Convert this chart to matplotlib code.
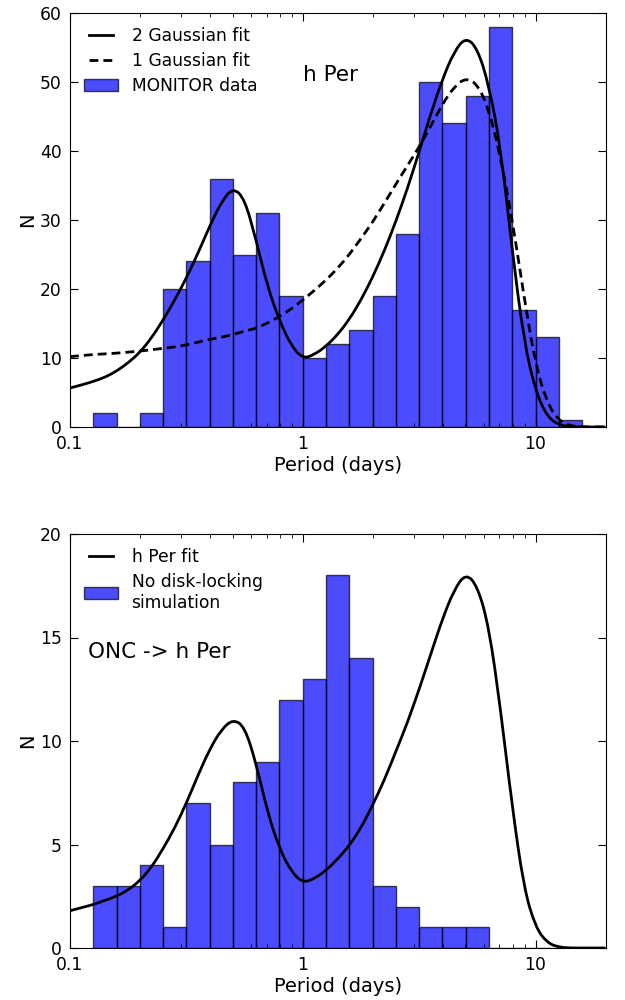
import matplotlib
matplotlib.use('Agg')
import matplotlib.pyplot as plt
import matplotlib.ticker as ticker
from matplotlib.path import Path
from matplotlib.patches import PathPatch
from matplotlib.lines import Line2D
import numpy as np

# histogram bins, log10 of the period in days
bin_edges_log = [-0.9, -0.8, -0.7, -0.6, -0.5, -0.4, -0.3, -0.2, -0.1, 0.0, 0.1,
                 0.2, 0.3, 0.4, 0.5, 0.6, 0.7, 0.8, 0.9, 1.0, 1.1, 1.2]
hper_counts = [2, 0, 2, 20, 24, 36, 25, 31, 19, 10, 12,
               14, 19, 28, 50, 44, 48, 58, 17, 13, 1]
onc_counts = [3, 3, 4, 1, 7, 5, 8, 9, 12, 13, 18,
              14, 3, 2, 1, 1, 1, 0, 0, 0, 0]

# fitted curves (log10 period -> N)
fit_logp = [-1.00, -0.95, -0.90, -0.85, -0.80, -0.75, -0.70, -0.65, -0.60, -0.55,
            -0.50, -0.45, -0.40, -0.35, -0.30, -0.25, -0.20, -0.15, -0.10, -0.05,
            0.00, 0.05, 0.10, 0.15, 0.20, 0.25, 0.30, 0.35, 0.40, 0.45,
            0.50, 0.55, 0.60, 0.65, 0.70, 0.75, 0.80, 0.85, 0.90, 0.95,
            1.00, 1.05, 1.10, 1.15, 1.20, 1.25, 1.30]
fit2_hper = [5.65, 6.1, 6.6, 7.2, 8.1, 9.3, 10.8, 12.9, 15.5, 18.4,
             21.6, 25.2, 29.1, 32.6, 34.7, 33.1, 27.0, 20.2, 15.4, 11.8,
             9.9, 10.5, 11.7, 13.4, 15.6, 18.4, 21.7, 25.5, 29.8, 34.6,
             39.9, 45.4, 50.4, 54.4, 56.5, 54.9, 49.5, 40.5, 25.5, 12.5,
             5.2, 1.5, 0.3, 0.05, 0.0, 0.0, 0.0]
fit1_hper = [10.2, 10.35, 10.5, 10.6, 10.7, 10.85, 11.0, 11.2, 11.4, 11.6,
             11.9, 12.3, 12.7, 13.0, 13.4, 13.9, 14.3, 15.1, 16.0, 17.1,
             18.4, 19.8, 21.3, 23.0, 25.0, 27.3, 29.7, 32.4, 35.2, 37.9,
             40.6, 43.6, 46.8, 49.3, 50.6, 49.7, 46.0, 39.0, 30.0, 19.0,
             9.0, 3.5, 0.9, 0.15, 0.02, 0.0, 0.0]
fit_onc = [1.8, 1.95, 2.1, 2.3, 2.5, 2.8, 3.25, 3.9, 4.8, 5.8,
           7.0, 8.35, 9.6, 10.55, 11.05, 10.7, 8.9, 6.5, 4.8, 3.7,
           3.15, 3.35, 3.75, 4.3, 4.95, 5.8, 6.9, 8.1, 9.5, 10.9,
           12.5, 14.2, 15.9, 17.3, 18.1, 17.5, 15.5, 11.5, 6.8, 2.9,
           1.0, 0.25, 0.04, 0.0, 0.0, 0.0, 0.0]

edges = np.power(10.0, bin_edges_log)
centers = np.sqrt(edges[:-1] * edges[1:])


def smooth_curve(ax, logx, y, **kw):
    """draws the read points as a smooth quadratic bezier path"""
    verts = [(10 ** logx[0], y[0])]
    codes = [Path.MOVETO]
    for i in range(1, len(logx) - 1):
        mx = 0.5 * (logx[i] + logx[i + 1])
        my = 0.5 * (y[i] + y[i + 1])
        verts += [(10 ** logx[i], y[i]), (10 ** mx, my)]
        codes += [Path.CURVE3, Path.CURVE3]
    verts.append((10 ** logx[-1], y[-1]))
    codes.append(Path.LINETO)
    ax.add_patch(PathPatch(Path(verts, codes), fill=False, zorder=2, **kw))


def style_axis(ax, ymax, ystep):
    ax.set_xscale('log')
    ax.set_xlim(0.1, 20)
    ax.set_ylim(0, ymax)
    ax.yaxis.set_major_locator(ticker.MultipleLocator(ystep))
    ax.xaxis.set_major_formatter(ticker.FuncFormatter(lambda v, p: '%g' % v))
    ax.tick_params(which='both', direction='in', top=True, right=True, labelsize=12.3)
    ax.tick_params(which='major', length=5.5, pad=6)
    ax.tick_params(which='minor', length=2.8)
    ax.set_xlabel('Period (days)', fontsize=14, labelpad=2)
    ax.set_ylabel('N', fontsize=14, labelpad=2)


fig = plt.figure(figsize=(6.25, 10), dpi=100)
ax1 = fig.add_axes([0.112, 0.573, 0.857, 0.414])
ax2 = fig.add_axes([0.112, 0.052, 0.857, 0.414])

dash = (0, (3.2, 1.8))

# top panel
_, _, bars1 = ax1.hist(centers, bins=edges, weights=hper_counts, color='b',
                       alpha=0.7, edgecolor='k', linewidth=1)
smooth_curve(ax1, fit_logp, fit2_hper, edgecolor='k', lw=2)
smooth_curve(ax1, fit_logp, fit1_hper, edgecolor='k', lw=2, linestyle=dash)
h2 = Line2D([], [], color='k', lw=2)
h1 = Line2D([], [], color='k', lw=2, linestyle=dash)
ax1.legend([h2, h1, bars1[0]], ['2 Gaussian fit', '1 Gaussian fit', 'MONITOR data'],
           loc='upper left', frameon=False, fontsize=12.3, handlelength=2.0,
           numpoints=2, borderaxespad=0.4, labelspacing=0.42)
ax1.text(1.0, 51, 'h Per', fontsize=15.5, va='center')
style_axis(ax1, 60, 10)

# bottom panel
_, _, bars2 = ax2.hist(centers, bins=edges, weights=onc_counts, color='b',
                       alpha=0.7, edgecolor='k', linewidth=1)
smooth_curve(ax2, fit_logp, fit_onc, edgecolor='k', lw=2)
h3 = Line2D([], [], color='k', lw=2)
ax2.legend([h3, bars2[0]], ['h Per fit', 'No disk-locking\nsimulation'],
           loc='upper left', frameon=False, fontsize=12.3, handlelength=2.0,
           numpoints=2, borderaxespad=0.4, labelspacing=0.42)
ax2.text(0.12, 14.3, 'ONC -> h Per', fontsize=15.5, va='center')
style_axis(ax2, 20, 5)

fig.savefig('out.png', dpi=100, facecolor='white')
